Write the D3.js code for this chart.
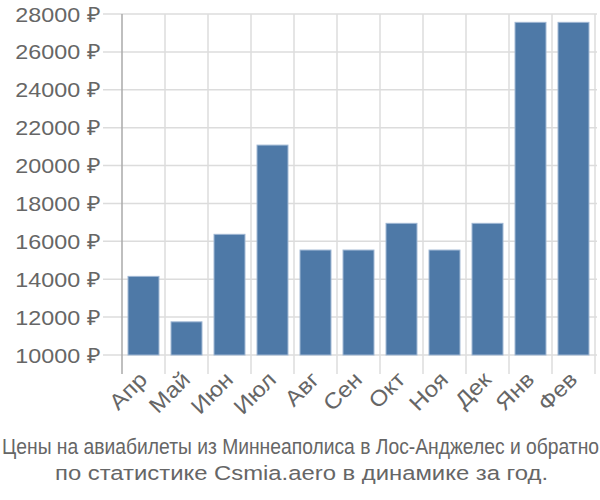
<!DOCTYPE html>
<html><head><meta charset="utf-8">
<script src="https://cdn.jsdelivr.net/npm/d3@7"></script>
<style>body{margin:0;background:#fff}svg{display:block}</style>
</head><body>
<svg id="c" width="600" height="500"></svg>
<script>
const months = ["Апр","Май","Июн","Июл","Авг","Сен","Окт","Ноя","Дек","Янв","Фев"];
const prices = [14150, 11750, 16370, 21080, 15540, 15540, 16950, 15540, 16950, 27560, 27560];
const yTicks = [10000,12000,14000,16000,18000,20000,22000,24000,26000,28000];
const title1 = "Цены на авиабилеты из Миннеаполиса в Лос-Анджелес и обратно";
const title2 = "по статистике Csmia.aero в динамике за год.";

const svg = d3.select("#c");
const font = "'Liberation Sans', Arial, sans-serif";
const x = d3.scaleBand().domain(months).range([122, 595]).paddingInner(0.28).paddingOuter(0.14);
const y = d3.scaleLinear().domain([10000, 28000]).range([355, 14]);

function stretch(sel, k) {
  sel.each(function() {
    const L = this.getComputedTextLength();
    d3.select(this).attr("textLength", L * k).attr("lengthAdjust", "spacingAndGlyphs");
  });
}

// horizontal gridlines
svg.append("g").selectAll("line").data(yTicks).join("line")
  .attr("x1", 103).attr("x2", 597)
  .attr("y1", d => y(d)).attr("y2", d => y(d))
  .attr("stroke", "#dcdcdc").attr("stroke-width", 1.5);
// vertical gridlines at band boundaries
const bounds = months.map(m => x(m) - x.step()*x.paddingInner()/2).concat([595]);
svg.append("g").selectAll("line").data(bounds.slice(1)).join("line")
  .attr("x1", d => d).attr("x2", d => d)
  .attr("y1", 14).attr("y2", 374)
  .attr("stroke", "#dcdcdc").attr("stroke-width", 1.5);

// bars
svg.append("g").selectAll("rect").data(prices).join("rect")
  .attr("x", (d,i) => x(months[i]))
  .attr("width", x.bandwidth())
  .attr("y", d => y(d))
  .attr("height", d => y(10000) - y(d))
  .attr("fill", "#4e79a7")
  .attr("stroke", "#9fb7d3").attr("stroke-width", 1);

// y axis line
svg.append("line").attr("x1", 122).attr("x2", 122).attr("y1", 14).attr("y2", 374)
  .attr("stroke", "#aaaaaa").attr("stroke-width", 1.5);

// y labels
const yl = svg.append("g").selectAll("text").data(yTicks).join("text")
  .attr("x", 100).attr("y", d => y(d))
  .attr("dy", "0.36em")
  .attr("text-anchor", "end")
  .attr("font-family", font).attr("font-size", 21)
  .attr("fill", "#666")
  .text(d => d + " ₽");
stretch(yl, 1.11);

// x labels
const xl = svg.append("g").selectAll("text").data(months).join("text")
  .attr("transform", d => `translate(${x(d) + x.bandwidth()/2 + 5},${381}) rotate(-45)`)
  .attr("text-anchor", "end")
  .attr("font-family", font).attr("font-size", 22)
  .attr("fill", "#666")
  .text(d => d);
stretch(xl, 1.1);

// titles
svg.append("text").attr("x", 2).attr("y", 454)
  .attr("textLength", 597).attr("lengthAdjust", "spacingAndGlyphs")
  .attr("font-family", font).attr("font-size", 22).attr("fill", "#666")
  .text(title1);
svg.append("text").attr("x", 55).attr("y", 480)
  .attr("textLength", 493).attr("lengthAdjust", "spacingAndGlyphs")
  .attr("font-family", font).attr("font-size", 20.5).attr("fill", "#666")
  .text(title2);
</script>
</body></html>
